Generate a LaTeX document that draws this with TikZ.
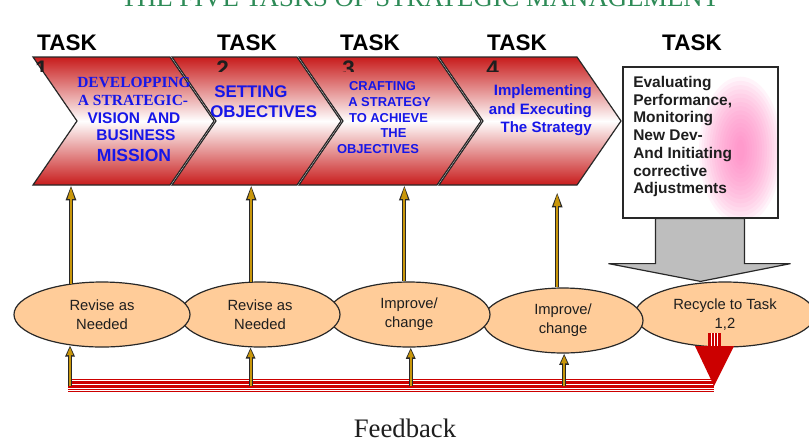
\documentclass[tikz,border=0pt]{standalone}
\usepackage{fontspec}
\setmainfont{Liberation Serif}
\setsansfont{Liberation Sans}
\usetikzlibrary{shapes.geometric,arrows.meta,calc}
\newdimen\pxu \pxu=0.025cm
\definecolor{chevred}{RGB}{200,28,28}
\definecolor{inkblue}{RGB}{22,22,232}
\definecolor{peach}{RGB}{255,204,153}
\definecolor{goldfill}{RGB}{200,150,10}
\definecolor{outline}{RGB}{40,40,40}
\definecolor{glowpink}{RGB}{255,120,190}
\definecolor{boxgray}{RGB}{190,190,190}
\definecolor{titlegreen}{RGB}{46,139,87}
\definecolor{fbred}{RGB}{204,0,0}
\definecolor{textdark}{RGB}{30,30,30}
\begin{document}
\begin{tikzpicture}[x=0.025cm,y=-0.025cm,
  chevron/.style={draw=outline, line width=0.85pt, line join=miter,
    top color=chevred, bottom color=chevred, middle color=white},
  tasklabel/.style={font=\sffamily\bfseries\fontsize{16}{18}\selectfont, inner sep=0pt, anchor=base, text=black},
  tasknum/.style={font=\sffamily\bfseries\fontsize{16}{18}\selectfont, inner sep=0pt, anchor=base west, text=textdark},
  serifcap/.style={font=\bfseries\fontsize{11}{13}\selectfont, inner sep=0pt, anchor=base, text=inkblue},
  sanscap/.style={font=\sffamily\bfseries\fontsize{#1}{13}\selectfont, inner sep=0pt, text=inkblue},
  ellipsebox/.style={ellipse, draw=outline, line width=0.85pt, fill=peach, inner sep=0pt,
    font=\sffamily\fontsize{10.5}{13.4}\selectfont, text=textdark, align=center},
  goldup/.style={draw=outline, line width=2.8pt, -{Triangle[length=11pt,width=6.8pt]},
    postaction={draw=goldfill, line width=1.5pt, shorten >=1.3pt, -{Triangle[length=8.6pt,width=4.5pt]}}},
  goldlow/.style={draw=outline, line width=2.8pt, -{Triangle[length=8pt,width=6.4pt]},
    postaction={draw=goldfill, line width=1.5pt, shorten >=1.2pt, -{Triangle[length=5.8pt,width=4.1pt]}}},
  whitestripe/.style={draw=white, line width=0.5pt}
]
\clip (0,0) rectangle (809,443);
\fill[white] (0,0) rectangle (809,443);

% heading, its upper half runs off the top edge
\node[font=\fontsize{19}{22}\selectfont, text=titlegreen, anchor=base, inner sep=0pt] (title) at (420,6)
  {THE FIVE TASKS OF STRATEGIC MANAGEMENT};

% task labels
\node[tasklabel] (task1) at (67,50) {TASK};
\node[tasklabel] (task2) at (247,50) {TASK};
\node[tasklabel] (task3) at (370,50) {TASK};
\node[tasklabel] (task4) at (517,50) {TASK};
\node[tasklabel] (task5) at (692,50) {TASK};

% the four chevrons
\path[chevron] (439,57) -- (577,57) -- (621,121) -- (577,185) -- (439,185) -- (483,121) -- cycle;
\path[chevron] (299,57) -- (437,57) -- (481,121) -- (437,185) -- (299,185) -- (343,121) -- cycle;
\path[chevron] (172,57) -- (297,57) -- (341,121) -- (297,185) -- (172,185) -- (216,121) -- cycle;
\path[chevron] (33,57) -- (170,57) -- (214,121) -- (170,185) -- (33,185) -- (77,121) -- cycle;

% task numbers, only their upper part shows
\begin{scope}
\clip (0,50) rectangle (809,71.5);
\node[tasknum] (num1) at (35,76) {1};
\node[tasknum] (num2) at (216,76) {2};
\node[tasknum] (num3) at (342,76) {3};
\node[tasknum] (num4) at (486,76) {4};
\end{scope}

% chevron texts
\node[serifcap] (c1a) at (134,87) {DEVELOPPING};
\node[serifcap] (c1b) at (133,105) {A STRATEGIC-};
\node[sanscap=11, anchor=base] (c1c) at (134,123) {VISION\,\ AND};
\node[sanscap=11, anchor=base] (c1d) at (136,140) {BUSINESS};
\node[sanscap=12.5, anchor=base] (c1e) at (134,161) {MISSION};

\node[sanscap=12, anchor=base west] (c2a) at (214,97) {SETTING};
\node[sanscap=12, anchor=base west] (c2b) at (210,117) {OBJECTIVES};

\node[sanscap=9.2, anchor=base] (c3a) at (382.5,90.5) {CRAFTING};
\node[sanscap=9.2, anchor=base] (c3b) at (389.5,106.5) {A STRATEGY};
\node[sanscap=9.2, anchor=base] (c3c) at (388.5,122.5) {TO ACHIEVE};
\node[sanscap=9.2, anchor=base] (c3d) at (393.5,137) {THE};
\node[sanscap=9.2, anchor=base] (c3e) at (378,153.5) {OBJECTIVES};

\node[sanscap=10.7, anchor=base east] (c4a) at (592,95.5) {Implementing};
\node[sanscap=10.7, anchor=base east] (c4b) at (592,114) {and Executing};
\node[sanscap=10.7, anchor=base east] (c4c) at (592,132.5) {The Strategy};

% chevron attachment points
\coordinate (ch1) at (71,185);
\coordinate (ch2) at (251,185);
\coordinate (ch3) at (404,185);
\coordinate (a4top) at (557,192);

% evaluation box with a soft pink glow built from stacked translucent ellipses
\node[draw=outline, line width=0.85pt, fill=white, inner sep=0pt,
  minimum width=155*\pxu, minimum height=151*\pxu,
  path picture={
    \foreach \k in {1,...,16}
      \fill[glowpink, opacity=0.075]
        ($(path picture bounding box.center)+(40,8)$)
        ellipse [x radius={44-2.5*\k}, y radius={78-4.2*\k}];
  }]
  (box5) at (700.5,142.5) {};
\node[font=\sffamily\bfseries\fontsize{11}{12.6}\selectfont, text=textdark, align=left,
  inner sep=0pt, anchor=north west] (evaltext) at (633,76)
  {Evaluating\\Performance,\\Monitoring\\New Dev-\\And Initiating\\corrective\\Adjustments};

% ellipses, left ones on top
\node[ellipsebox, minimum width=180*\pxu, minimum height=65*\pxu] (e5) at (725,314.5) {Recycle to Task\\1,2};
\node[ellipsebox, minimum width=160*\pxu, minimum height=65*\pxu] (e4) at (563,320.5) {Improve/\\change};
\node[ellipsebox, minimum width=162*\pxu, minimum height=65*\pxu] (e3) at (409,314.5) {Improve/\\change};
\node[ellipsebox, minimum width=160*\pxu, minimum height=65*\pxu] (e2) at (260,314.5) {Revise as\\Needed};
\node[ellipsebox, minimum width=176*\pxu, minimum height=65*\pxu] (e1) at (102,314.5) {Revise as\\Needed};

% upper arrows from the ellipses to the tasks
\draw[goldup] (e1.135.5) -- (e1.135.5 |- ch1);
\draw[goldup] (e2.105.6) -- (e2.105.6 |- ch2);
\draw[goldup] (e3.98.8) -- (e3.98.8 |- ch3);
\draw[goldup] (e4.100.5) -- (e4.100.5 |- a4top);

% grey arrow from the evaluation box down to the recycle ellipse
\draw[draw=outline, line width=0.85pt, fill=boxgray, line join=miter]
  ($(box5.south)+(-45,0)$) -- ($(box5.south)+(-45,45)$) -- ($(box5.south)+(-92,45)$)
  -- (box5.south |- e5.north)
  -- ($(box5.south)+(90,45)$) -- ($(box5.south)+(44,45)$) -- ($(box5.south)+(44,0)$) -- cycle;

% feedback line
\coordinate (fbL) at (68,386);
\coordinate (fbR) at (714,386);
\fill[fbred] (68,379) rectangle (714,392);
\draw[whitestripe] (68,380.6) -- (714,380.6);
\draw[whitestripe] (68,384.7) -- (714,384.7);
\draw[whitestripe] (68,388.0) -- (714,388.0);
\draw[whitestripe] (68,390.3) -- (714,390.3);

% striped red arrow from the recycle ellipse to the feedback line
\fill[fbred] (708,333) rectangle (721,346.5);
\draw[whitestripe] (711.2,333) -- (711.2,346);
\draw[whitestripe] (714.5,333) -- (714.5,346);
\draw[whitestripe] (717.8,333) -- (717.8,346);
\fill[fbred] (695,346) -- (734,346) -- (fbR) -- cycle;

% lower arrows from the feedback line
\draw[goldlow] (e1.224.5 |- fbL) -- (e1.224.5);
\draw[goldlow] (e2.254.4 |- fbL) -- (e2.254.4);
\draw[goldlow] (e3.273.5 |- fbL) -- (e3.273.5);
\draw[goldlow] (e4.272 |- fbL) -- (e4.272);

\node[font=\fontsize{19}{22}\selectfont, text=textdark, anchor=base, inner sep=0pt] (fbtext) at (405,437.5) {Feedback};
\end{tikzpicture}
\end{document}
